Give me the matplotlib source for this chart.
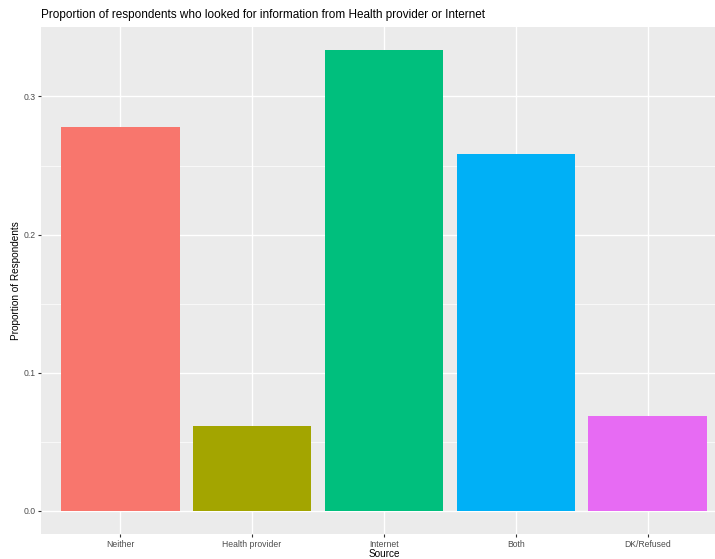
import matplotlib
matplotlib.use("Agg")
import matplotlib.pyplot as plt

sources = ["Neither", "Health provider", "Internet", "Both", "DK/Refused"]
proportions = [0.278, 0.0614, 0.3336, 0.2585, 0.0686]
colours = ["#F8766D", "#A3A500", "#00BF7D", "#00B0F6", "#E76BF3"]

plt.rcParams["font.family"] = ["Liberation Sans", "DejaVu Sans"]

fig = plt.figure(figsize=(7.15, 5.59), dpi=100)
# panel runs past the right edge, as in the reference
ax = fig.add_axes([41 / 715, 25 / 559, 686 / 715, 507 / 559])
ax.set_facecolor("#EBEBEB")

x = list(range(1, len(sources) + 1))
ax.bar(x, proportions, width=0.9, color=colours, zorder=3)

ymax = max(proportions)
ax.set_xlim(0.4, 5.6)
ax.set_ylim(-0.05 * ymax, 1.05 * ymax)

ax.set_yticks([0.0, 0.1, 0.2, 0.3])
ax.set_yticklabels(["0.0", "0.1", "0.2", "0.3"])
ax.set_yticks([0.05, 0.15, 0.25], minor=True)
ax.set_xticks(x)
ax.set_xticklabels(sources)

ax.grid(True, which="major", color="white", linewidth=1.0, zorder=0)
ax.grid(True, which="minor", axis="y", color="white", linewidth=0.5, zorder=0)
ax.tick_params(which="minor", length=0)
ax.tick_params(which="major", length=2.5, color="#333333", labelsize=6.2,
               labelcolor="#4D4D4D", pad=1.5)
for s in ax.spines.values():
    s.set_visible(False)

ax.set_xlabel("Source", fontsize=7.2, labelpad=0.5)
ax.set_ylabel("Proportion of Respondents", fontsize=7.2, labelpad=1.5)
fig.text(41 / 715, 1 - 15 / 559, "Proportion of respondents who looked for information from Health provider or Internet",
         fontsize=8.5, va="center", ha="left")

fig.savefig("out.png", dpi=100)
